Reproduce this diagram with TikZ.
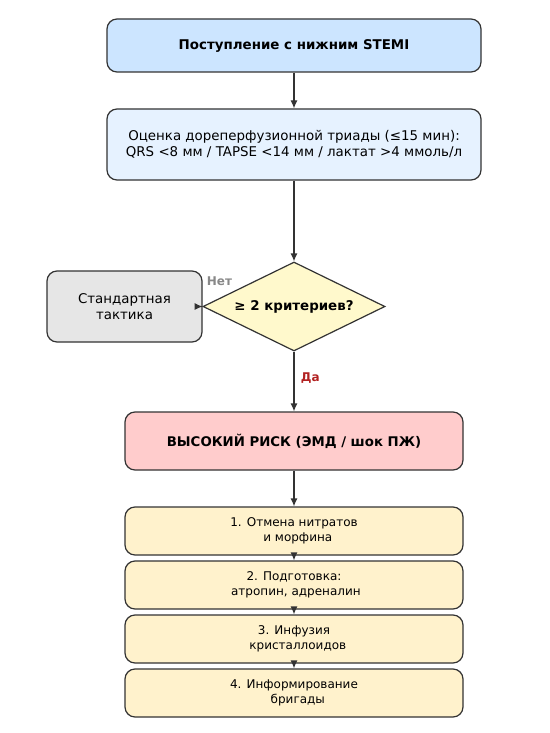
\documentclass[tikz,border=0pt]{standalone}
\usepackage{fontspec}
\setmainfont{DejaVu Sans}
\usetikzlibrary{shapes.geometric,arrows.meta}
\definecolor{edge}{HTML}{333333}
\definecolor{cblue}{HTML}{CCE5FF}
\definecolor{clblue}{HTML}{E6F2FF}
\definecolor{cyel}{HTML}{FFF9CC}
\definecolor{cgray}{HTML}{E6E6E6}
\definecolor{cred}{HTML}{FFCCCC}
\definecolor{cstep}{HTML}{FFF2CC}
\definecolor{nogray}{HTML}{888888}
\definecolor{yesred}{HTML}{B22222}
\tikzset{
  box/.style={draw=edge, line width=1.2pt, rounded corners=10pt, inner sep=0pt, align=center, text=black},
  stepbox/.style={box, fill=cstep, minimum width=338pt, minimum height=48pt, font=\fontsize{12}{15}\selectfont},
  arr/.style={draw=edge, line width=1.2pt, -{Latex[length=8pt,width=7pt]}},
}
\begin{document}
\begin{tikzpicture}[x=1pt,y=-1pt]
\useasboundingbox (0,0) rectangle (549,733);
\fill[white] (0,0) rectangle (549,733);
\node[box, fill=cblue, minimum width=374pt, minimum height=53pt, font=\bfseries\fontsize{13.4}{16}\selectfont] (a) at (294,45.5) {Поступление с нижним STEMI};
\node[box, fill=clblue, minimum width=374pt, minimum height=71pt, font=\fontsize{13.4}{16}\selectfont] (b) at (294,144.5) {Оценка дореперфузионной триады (≤15 мин):\\QRS <8 мм / TAPSE <14 мм / лактат >4 ммоль/л};
\node[diamond, draw=edge, line width=1.2pt, fill=cyel, minimum width=182pt, minimum height=89pt, inner sep=0pt, aspect=2.05, font=\bfseries\fontsize{13.4}{16}\selectfont] (d) at (294,306.5) {≥ 2 критериев?};
\node[box, fill=cgray, minimum width=155pt, minimum height=71pt, font=\fontsize{13.4}{16}\selectfont] (s) at (124.5,306.5) {Стандартная\\тактика};
\node[box, fill=cred, minimum width=338pt, minimum height=58pt, font=\bfseries\fontsize{13.3}{16}\selectfont] (h) at (294,441) {ВЫСОКИЙ РИСК (ЭМД / шок ПЖ)};
\node[stepbox] (s1) at (294,531) {1. Отмена нитратов\\\ \ и морфина};
\node[stepbox] (s2) at (294,585) {2. Подготовка:\\\ атропин, адреналин};
\node[stepbox] (s3) at (294,639) {3. Инфузия\\\ \ кристаллоидов};
\node[stepbox] (s4) at (294,693) {4. Информирование\\\ \ бригады};
\draw[arr] (a) -- (b);
\draw[arr] (b) -- (d);
\draw[arr] (d) -- (h) node[pos=0.45, right=3pt, text=yesred, font=\bfseries\fontsize{12}{14}\selectfont] (yes) {Да};
\draw[arr] (d.west) -- (s.east);
\node[text=nogray, font=\bfseries\fontsize{12}{14}\selectfont] (no) at (219.5,281) {Нет};
\draw[arr] (h) -- (s1);
\draw[arr] (s1) -- (s2);
\draw[arr] (s2) -- (s3);
\draw[arr] (s3) -- (s4);
\end{tikzpicture}
\end{document}
